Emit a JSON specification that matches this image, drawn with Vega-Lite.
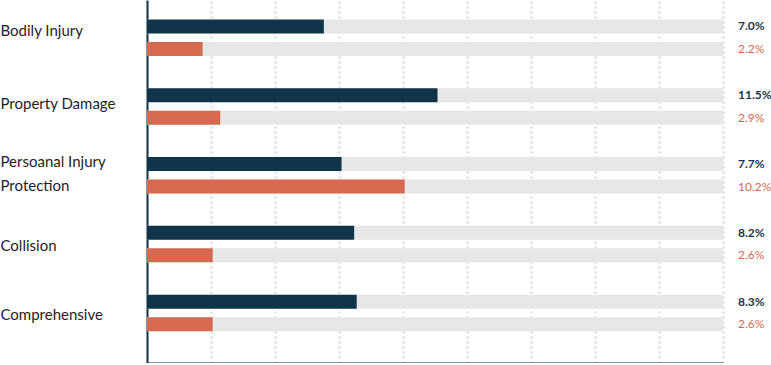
{
  "$schema": "https://vega.github.io/schema/vega-lite/v6.json",
  "width": 576,
  "height": 363,
  "padding": {"left": 0, "top": 0, "right": 0, "bottom": 0},
  "autosize": {"type": "pad"},
  "config": {
    "view": {"stroke": null},
    "font": "Lato",
    "axisX": {
      "grid": true,
      "gridDash": [2, 3],
      "gridColor": "#d4d4d4",
      "gridWidth": 2,
      "labels": false,
      "ticks": false,
      "domainColor": "#10344a",
      "domainWidth": 2,
      "title": null
    },
    "axisY": {
      "grid": false,
      "ticks": false,
      "domainColor": "#10344a",
      "domainWidth": 2,
      "title": null,
      "labelAlign": "left",
      "labelBaseline": "middle",
      "labelPadding": 147,
      "labelFontSize": 15,
      "labelColor": "#1e1e1e",
      "labelFont": "Lato",
      "labelLimit": 200,
      "labelLineHeight": 24
    }
  },
  "data": {
    "values": [
      {"category": "Bodily Injury", "series": "A", "value": 7.0, "pct": "7.0%"},
      {"category": "Bodily Injury", "series": "B", "value": 2.2, "pct": "2.2%"},
      {"category": "Property Damage", "series": "A", "value": 11.5, "pct": "11.5%"},
      {"category": "Property Damage", "series": "B", "value": 2.9, "pct": "2.9%"},
      {"category": "Persoanal Injury Protection", "series": "A", "value": 7.7, "pct": "7.7%"},
      {"category": "Persoanal Injury Protection", "series": "B", "value": 10.2, "pct": "10.2%"},
      {"category": "Collision", "series": "A", "value": 8.2, "pct": "8.2%"},
      {"category": "Collision", "series": "B", "value": 2.6, "pct": "2.6%"},
      {"category": "Comprehensive", "series": "A", "value": 8.3, "pct": "8.3%"},
      {"category": "Comprehensive", "series": "B", "value": 2.6, "pct": "2.6%"}
    ]
  },
  "encoding": {
    "y": {
      "field": "category",
      "type": "nominal",
      "sort": ["Bodily Injury", "Property Damage", "Persoanal Injury Protection", "Collision", "Comprehensive"],
      "scale": {"paddingInner": 0, "paddingOuter": 0.138, "align": 0.174},
      "axis": {
        "labelExpr": "datum.label == 'Persoanal Injury Protection' ? ['Persoanal Injury', 'Protection'] : datum.label",
        "labelOffset": {
          "condition": [
            {"test": "datum.value == 'Bodily Injury'", "value": -7},
            {"test": "datum.value == 'Property Damage'", "value": -2.5},
            {"test": "datum.value == 'Collision' || datum.value == 'Comprehensive'", "value": 2}
          ],
          "value": -13.5
        }
      }
    },
    "yOffset": {
      "field": "series",
      "type": "nominal",
      "scale": {"paddingInner": 0.378, "paddingOuter": 0.718}
    }
  },
  "layer": [
    {
      "mark": {"type": "bar", "color": "#e7e7e7"},
      "encoding": {
        "x": {
          "datum": 22.8,
          "type": "quantitative",
          "scale": {"domain": [0, 22.8], "nice": false, "zero": true},
          "axis": {"values": [0, 2.5333, 5.0667, 7.6, 10.1333, 12.6667, 15.2, 17.7333, 20.2667, 22.8]}
        }
      }
    },
    {
      "mark": {"type": "bar"},
      "encoding": {
        "x": {"field": "value", "type": "quantitative"},
        "color": {
          "field": "series",
          "type": "nominal",
          "scale": {"domain": ["A", "B"], "range": ["#10344a", "#d6694f"]},
          "legend": null
        }
      }
    },
    {
      "transform": [{"filter": "datum.series == 'A'"}],
      "mark": {"type": "text", "align": "left", "baseline": "middle", "dx": 15, "fontSize": 12, "fontWeight": "bold", "color": "#1a3448", "font": "Lato"},
      "encoding": {
        "x": {"datum": 22.8, "type": "quantitative"},
        "text": {"field": "pct"}
      }
    },
    {
      "transform": [{"filter": "datum.series == 'B'"}],
      "mark": {"type": "text", "align": "left", "baseline": "middle", "dx": 15, "fontSize": 12, "color": "#d6694f", "font": "Lato"},
      "encoding": {
        "x": {"datum": 22.8, "type": "quantitative"},
        "text": {"field": "pct"}
      }
    }
  ]
}
